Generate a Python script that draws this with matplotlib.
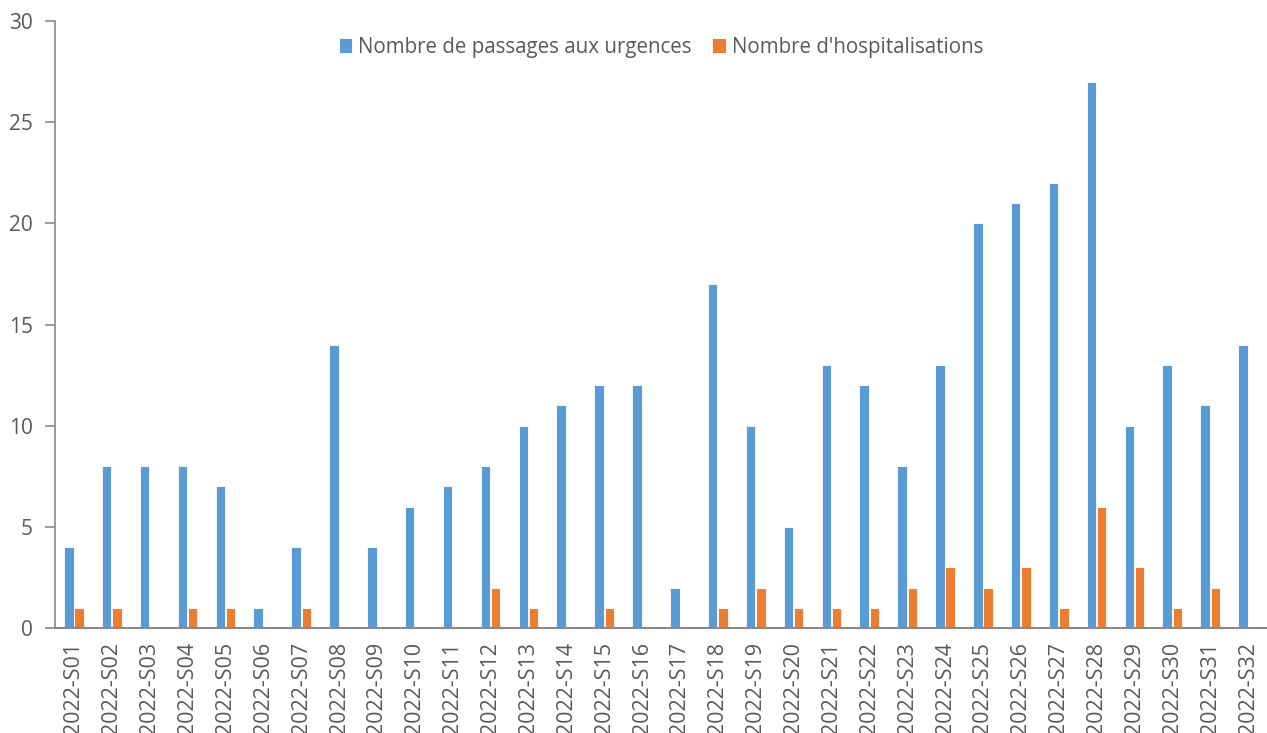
import numpy as np
import matplotlib.pyplot as plt

plt.rcParams['font.family'] = ['Open Sans', 'DejaVu Sans']

# Données hebdomadaires
semaines = ["2022-S%02d" % i for i in range(1, 33)]
passages = [4, 8, 8, 8, 7, 1, 4, 14, 4, 6, 7, 8, 10, 11, 12, 12,
            2, 17, 10, 5, 13, 12, 8, 13, 20, 21, 22, 27, 10, 13, 11, 14]
hospit = [1, 1, 0, 1, 1, 0, 1, 0, 0, 0, 0, 2, 1, 0, 1, 0,
          0, 1, 2, 1, 1, 1, 2, 3, 2, 3, 1, 6, 3, 1, 2, 0]

gris = '#595959'
axe = '#898989'

fig = plt.figure(figsize=(12.67, 7.33), dpi=100)
ax = fig.add_axes([0.0434, 0.1432, 0.9566, 0.8281])

x = np.arange(len(semaines))
w = 0.25
ax.bar(x - w / 2 - 0.01, passages, w, color='#5B9BD5', edgecolor='white', linewidth=0.6,
       label='Nombre de passages aux urgences')
ax.bar(x + w / 2 + 0.01, hospit, w, color='#ED7D31', edgecolor='white', linewidth=0.6,
       label="Nombre d'hospitalisations")

ax.set_xlim(-0.5, len(semaines) - 0.5)
ax.set_ylim(0, 30)
ax.set_yticks(range(0, 31, 5))
ax.set_xticks(x)
ax.set_xticklabels(semaines, rotation=90, fontsize=15.5, color=gris)
ax.tick_params(axis='x', length=0, pad=10)
ax.tick_params(axis='y', length=7, width=1.2, color=axe, labelsize=15, labelcolor=gris, pad=9)

for s in ['top', 'right']:
    ax.spines[s].set_visible(False)
ax.spines['left'].set_color(axe)
ax.spines['left'].set_linewidth(1.2)
ax.spines['bottom'].set_color(axe)
ax.spines['bottom'].set_linewidth(1.5)

leg = ax.legend(loc='upper center', bbox_to_anchor=(0.5, 1.005), ncol=2, frameon=False,
                fontsize=14.8, handlelength=0.65, handleheight=0.7, handletextpad=0.3,
                columnspacing=1.0)
for t in leg.get_texts():
    t.set_color(gris)

fig.savefig('out.png', dpi=100)
